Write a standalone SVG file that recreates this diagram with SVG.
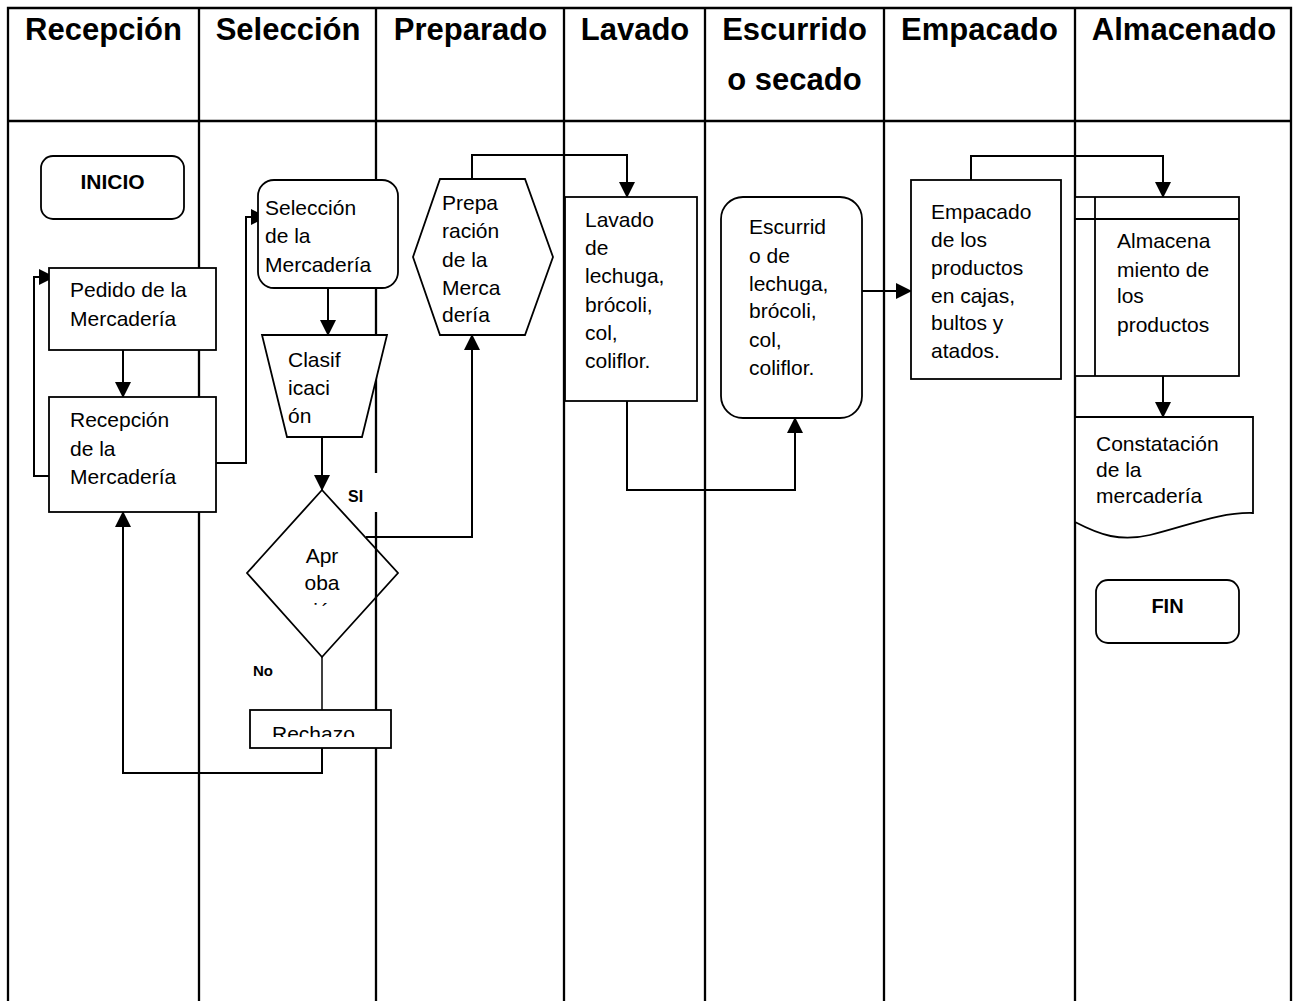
<svg xmlns="http://www.w3.org/2000/svg" width="1299" height="1001" viewBox="0 0 1299 1001">
<style>
.lane{stroke:#000;stroke-width:2.3;fill:none}
.shape{stroke:#000;stroke-width:1.8;fill:#fff}
.open{stroke:#000;stroke-width:1.8;fill:none}
.con{stroke:#000;stroke-width:2;fill:none}
.thin{stroke:#000;stroke-width:1.5;fill:none}
text{font-family:"Liberation Sans",Arial,sans-serif;fill:#000}
.h{font-size:31px;font-weight:bold;text-anchor:middle}
.t{font-size:21px}
.b{font-weight:bold}
</style>
<defs>
<marker id="ah" markerUnits="userSpaceOnUse" markerWidth="16" markerHeight="16" viewBox="0 0 16 16" refX="15" refY="8" orient="auto">
<path d="M0,0 L16,8 L0,16 z" fill="#000"/>
</marker>
<clipPath id="clipDiamond"><rect x="240" y="540" width="170" height="67"/></clipPath>
<clipPath id="clipRechazo"><rect x="252" y="712" width="137" height="25"/></clipPath>
</defs>
<rect x="0" y="0" width="1299" height="1001" fill="#fff"/>
<g id="lanes">
<path class="lane" d="M8,1001 V8 H1291 V1001"/>
<path class="lane" d="M8,121 H1291"/>
<path class="lane" d="M199,8 V1001"/>
<path class="lane" d="M376,8 V473 M376,512 V1001"/>
<path class="lane" d="M564,8 V1001"/>
<path class="lane" d="M705,8 V1001"/>
<path class="lane" d="M884,8 V1001"/>
<path class="lane" d="M1075,8 V1001"/>
</g>
<g id="headers">
<text class="h" x="103.5" y="40">Recepción</text>
<text class="h" x="288" y="40">Selección</text>
<text class="h" x="470.5" y="40">Preparado</text>
<text class="h" x="635" y="40">Lavado</text>
<text class="h" x="794.5" y="40">Escurrido</text>
<text class="h" x="794.5" y="90">o secado</text>
<text class="h" x="979.5" y="40">Empacado</text>
<text class="h" x="1184" y="40">Almacenado</text>
</g>
<g id="connectors">
<path class="con" d="M123,350 V397" marker-end="url(#ah)"/>
<path class="con" d="M49,476 H34 V277 H54" marker-end="url(#ah)"/>
<path class="con" d="M216,463 H246 V217 H266" marker-end="url(#ah)"/>
<path class="con" d="M328,288 V335" marker-end="url(#ah)"/>
<path class="con" d="M322,437 V490" marker-end="url(#ah)"/>
<path class="con" d="M366,537 H472 V335" marker-end="url(#ah)"/>
<path class="con" d="M472,179 V155 H627 V197" marker-end="url(#ah)"/>
<path class="con" d="M627,401 V490 H795 V418" marker-end="url(#ah)"/>
<path class="con" d="M862,291 H911" marker-end="url(#ah)"/>
<path class="con" d="M971,180 V156 H1163 V197" marker-end="url(#ah)"/>
<path class="con" d="M1163,376 V417" marker-end="url(#ah)"/>
<path class="thin" d="M322,657 V710"/>
<path class="con" d="M322,748 V773 H123 V512" marker-end="url(#ah)"/>
</g>
<g id="inicio">
<rect class="shape" x="41" y="156" width="143" height="63" rx="12"/>
<text class="b" x="112.5" y="189" font-size="21" text-anchor="middle">INICIO</text>
</g>
<g id="pedido">
<rect class="shape" x="49" y="268" width="167" height="82"/>
<text class="t" x="70" y="297">Pedido de la</text>
<text class="t" x="70" y="326">Mercadería</text>
</g>
<g id="recepcion">
<rect class="shape" x="49" y="397" width="167" height="115"/>
<text class="t" x="70" y="427">Recepción</text>
<text class="t" x="70" y="456">de la</text>
<text class="t" x="70" y="484">Mercadería</text>
</g>
<g id="seleccion">
<rect class="shape" x="258" y="180" width="140" height="108" rx="16"/>
<text class="t" x="265" y="215">Selección</text>
<text class="t" x="265" y="243">de la</text>
<text class="t" x="265" y="272">Mercadería</text>
</g>
<g id="clasificacion">
<polygon class="shape" points="262,335 387,335 362,437 287,437"/>
<text class="t" x="288" y="367">Clasif</text>
<text class="t" x="288" y="395">icaci</text>
<text class="t" x="288" y="423">ón</text>
</g>
<g id="aprobacion">
<polygon class="open" points="322,490 398,573 322,657 247,573"/>
<text class="t" x="322" y="563" text-anchor="middle">Apr</text>
<text class="t" x="322" y="590" text-anchor="middle">oba</text>
<text class="t" x="322" y="618" text-anchor="middle" clip-path="url(#clipDiamond)">ción</text>
</g>
<g id="label-si">
<text class="b" x="348" y="502" font-size="16">SI</text>
</g>
<g id="label-no">
<text class="b" x="253" y="676" font-size="15">No</text>
</g>
<g id="rechazo">
<rect class="shape" x="250" y="710" width="141" height="38"/>
<text class="t" x="272" y="741" clip-path="url(#clipRechazo)">Rechazo</text>
</g>
<g id="preparacion">
<polygon class="shape" points="440,179 525,179 553,257 525,335 440,335 413,257"/>
<text class="t" x="442" y="210">Prepa</text>
<text class="t" x="442" y="238">ración</text>
<text class="t" x="442" y="267">de la</text>
<text class="t" x="442" y="295">Merca</text>
<text class="t" x="442" y="322">dería</text>
</g>
<g id="lavado">
<rect class="shape" x="565" y="197" width="132" height="204"/>
<text class="t" x="585" y="227">Lavado</text>
<text class="t" x="585" y="255">de</text>
<text class="t" x="585" y="283">lechuga,</text>
<text class="t" x="585" y="312">brócoli,</text>
<text class="t" x="585" y="340">col,</text>
<text class="t" x="585" y="368">coliflor.</text>
</g>
<g id="escurrido">
<rect class="shape" x="721" y="197" width="141" height="221" rx="22"/>
<text class="t" x="749" y="234">Escurrid</text>
<text class="t" x="749" y="263">o de</text>
<text class="t" x="749" y="291">lechuga,</text>
<text class="t" x="749" y="318">brócoli,</text>
<text class="t" x="749" y="347">col,</text>
<text class="t" x="749" y="375">coliflor.</text>
</g>
<g id="empacado">
<rect class="shape" x="911" y="180" width="150" height="199"/>
<text class="t" x="931" y="219">Empacado</text>
<text class="t" x="931" y="247">de los</text>
<text class="t" x="931" y="275">productos</text>
<text class="t" x="931" y="303">en cajas,</text>
<text class="t" x="931" y="330">bultos y</text>
<text class="t" x="931" y="358">atados.</text>
</g>
<g id="almacenamiento">
<rect class="shape" x="1075" y="197" width="164" height="179"/>
<path class="open" d="M1095,197 V376 M1075,219 H1239"/>
<text class="t" x="1117" y="248">Almacena</text>
<text class="t" x="1117" y="277">miento de</text>
<text class="t" x="1117" y="303">los</text>
<text class="t" x="1117" y="332">productos</text>
</g>
<g id="constatacion">
<path class="shape" d="M1075,417 H1253 V513 C1220,512 1190,525 1150,535 C1120,542 1100,535 1075,522 Z"/>
<text class="t" x="1096" y="451">Constatación</text>
<text class="t" x="1096" y="477">de la</text>
<text class="t" x="1096" y="503">mercadería</text>
</g>
<g id="fin">
<rect class="shape" x="1096" y="580" width="143" height="63" rx="12"/>
<text class="b" x="1167.5" y="613" font-size="20" text-anchor="middle">FIN</text>
</g>
</svg>
